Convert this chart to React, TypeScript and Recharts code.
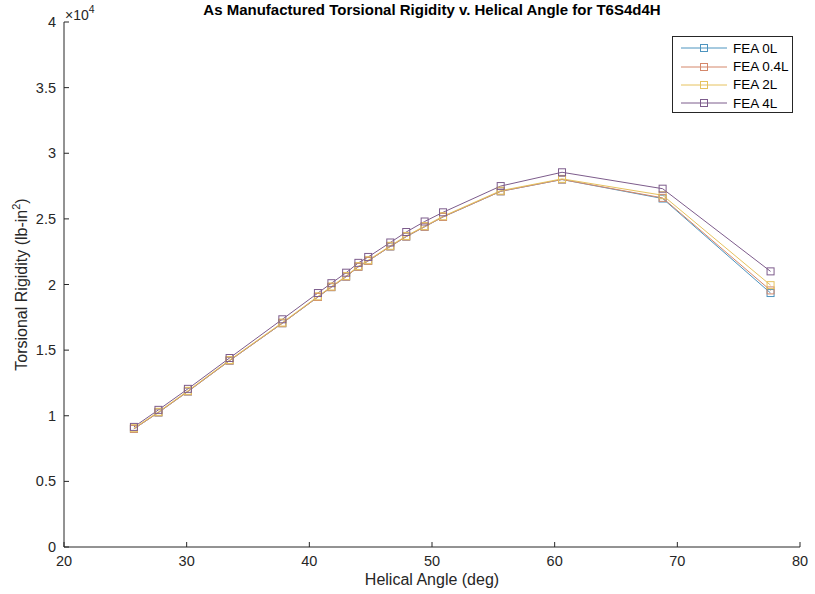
import { LineChart, Line, XAxis, YAxis } from "recharts";

// helical angle (deg)
const angles = [25.7, 27.7, 30.1, 33.5, 37.8, 40.7, 41.8, 43.0, 44.0, 44.8, 46.6, 47.9, 49.4, 50.9, 55.6, 60.6, 68.8, 77.6];
// torsional rigidity (lb-in^2)
const fea0L = [9000, 10250, 11850, 14200, 17050, 19050, 19800, 20600, 21350, 21800, 22900, 23650, 24400, 25150, 27100, 28000, 26550, 19350];
const fea04L = [9000, 10250, 11850, 14200, 17050, 19050, 19800, 20600, 21350, 21800, 22900, 23650, 24400, 25150, 27100, 28000, 26600, 19550];
const fea2L = [9050, 10300, 11900, 14250, 17100, 19100, 19850, 20650, 21400, 21850, 22950, 23700, 24450, 25200, 27150, 28050, 26800, 19950];
const fea4L = [9150, 10450, 12050, 14400, 17350, 19350, 20100, 20900, 21650, 22100, 23200, 24000, 24800, 25500, 27500, 28550, 27300, 21000];

const xTicks = [20, 30, 40, 50, 60, 70, 80];
const yTicks = [0, 5000, 10000, 15000, 20000, 25000, 30000, 35000, 40000];

const series = [
  { key: "fea0L", name: "FEA 0L", color: "#4d94bf" },
  { key: "fea04L", name: "FEA 0.4L", color: "#d4876a" },
  { key: "fea2L", name: "FEA 2L", color: "#e6c25e" },
  { key: "fea4L", name: "FEA 4L", color: "#7d5c8c" },
];

const data = angles.map((a, i) => ({
  angle: a,
  fea0L: fea0L[i],
  fea04L: fea04L[i],
  fea2L: fea2L[i],
  fea4L: fea4L[i],
}));

const FONT = '"Liberation Sans", Arial, Helvetica, sans-serif';
const AXIS = "#262626";

const SquareDot = (props: any) => {
  const { cx, cy, stroke } = props;
  if (cx == null || cy == null) return null;
  return <rect x={cx - 3.5} y={cy - 3.5} width={7} height={7} fill="none" stroke={stroke} strokeWidth={1} />;
};

const YTick = (props: any) => {
  const { x, y, payload } = props;
  return (
    <g>
      <line x1={x} x2={x + 5} y1={y} y2={y} stroke={AXIS} />
      <text x={x - 8} y={y} dy={5} textAnchor="end" fontSize={14.5} fill={AXIS} fontFamily={FONT}>
        {payload.value / 10000}
      </text>
    </g>
  );
};

const XTick = (props: any) => {
  const { x, y, payload } = props;
  return (
    <g>
      <line x1={x} x2={x} y1={y} y2={y - 5} stroke={AXIS} />
      <text x={x} y={y + 19} textAnchor="middle" fontSize={14.5} fill={AXIS} fontFamily={FONT}>
        {payload.value}
      </text>
    </g>
  );
};

const LegendBox = () => (
  <div
    style={{
      position: "absolute",
      left: 672,
      top: 36,
      width: 121,
      height: 77,
      border: "1px solid #262626",
      background: "#fff",
      padding: "2px 0 0 6px",
      boxSizing: "border-box",
      fontFamily: FONT,
      fontSize: 13.5,
      color: "#000",
      whiteSpace: "nowrap",
    }}
  >
    {series.map((s) => (
      <div key={s.key} style={{ display: "flex", alignItems: "center", height: 18.4 }}>
        <svg width={50} height={10} style={{ marginRight: 4, flexShrink: 0 }}>
          <line x1={2} x2={48} y1={5} y2={5} stroke={s.color} strokeWidth={1} />
          <rect x={21.5} y={1.5} width={7} height={7} fill="none" stroke={s.color} />
        </svg>
        <span>{s.name}</span>
      </div>
    ))}
  </div>
);

export default function App() {
  return (
    <div style={{ position: "relative", width: 815, height: 594, background: "#fff" }}>
      <style>{"body{margin:0}"}</style>
      <LineChart width={815} height={594} data={data} margin={{ top: 22, right: 15, bottom: 0, left: 0 }}>
        <text x={432} y={15} textAnchor="middle" fontFamily={FONT} fontSize={15} fontWeight="bold" fill="#000">
          As Manufactured Torsional Rigidity v. Helical Angle for T6S4d4H
        </text>
        <text x={65} y={20} fontFamily={FONT} fontSize={14} fill={AXIS}>
          ×10<tspan dy={-7} fontSize={10.5}>4</tspan>
        </text>
        <XAxis
          dataKey="angle"
          type="number"
          domain={[20, 80]}
          ticks={xTicks}
          height={47}
          tickSize={0}
          tickMargin={0}
          tickLine={false}
          stroke={AXIS}
          tick={<XTick />}
          label={{
            value: "Helical Angle (deg)",
            position: "insideBottom",
            offset: 9,
            fontFamily: FONT,
            fontSize: 16,
            fill: AXIS,
          }}
        />
        <YAxis
          type="number"
          domain={[0, 40000]}
          ticks={yTicks}
          width={64}
          tickSize={0}
          tickMargin={0}
          tickLine={false}
          stroke={AXIS}
          tick={<YTick />}
          label={{
            content: (p: any) => {
              const vb = p.viewBox;
              const cy = vb.y + vb.height / 2;
              return (
                <text
                  x={27}
                  y={cy}
                  transform={`rotate(-90, 27, ${cy})`}
                  textAnchor="middle"
                  fontFamily={FONT}
                  fontSize={16}
                  fill={AXIS}
                >
                  Torsional Rigidity (lb-in<tspan dy={-7} fontSize={11}>2</tspan>
                  <tspan dy={7}>)</tspan>
                </text>
              );
            },
          }}
        />
        {series.map((s) => (
          <Line
            key={s.key}
            type="linear"
            dataKey={s.key}
            name={s.name}
            stroke={s.color}
            strokeWidth={1}
            dot={<SquareDot />}
            activeDot={false}
            isAnimationActive={false}
          />
        ))}
      </LineChart>
      <LegendBox />
    </div>
  );
}
